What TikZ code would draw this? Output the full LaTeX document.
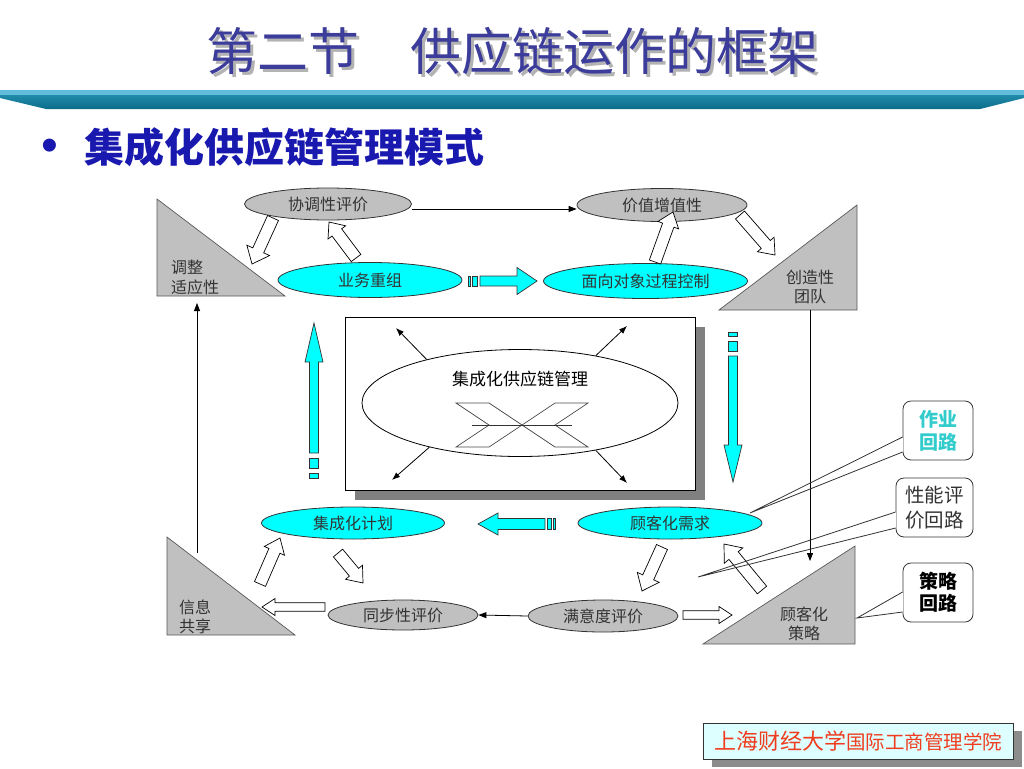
\documentclass[tikz,border=0pt]{standalone}
\usepackage{fontspec}
\setmainfont{Noto Sans CJK SC}
\newfontfamily\bulletfont{Liberation Sans}
\usetikzlibrary{shapes.geometric,calc,arrows.meta,shadows}

\definecolor{titleblue}{RGB}{60,60,155}
\definecolor{subblue}{RGB}{25,25,175}
\definecolor{bandtop}{RGB}{98,188,219}
\definecolor{bandhi}{RGB}{40,150,182}
\definecolor{bandlo}{RGB}{12,108,138}
\definecolor{silver}{RGB}{192,192,192}
\definecolor{aqua}{RGB}{0,255,255}
\definecolor{loopcyan}{RGB}{51,204,204}
\definecolor{footfill}{RGB}{221,255,255}
\definecolor{footred}{RGB}{240,60,30}
\definecolor{ink}{RGB}{51,51,51}

% block arrow: tail, tip, shaft half width, head half width, head length
\newcommand{\hollowarrow}[5]{%
  \draw[hollow] ($#1!#3pt!90:#2$) -- ($#2!#5pt!#1!#3pt!90:#2$)
    -- ($#2!#5pt!#1!#4pt!90:#2$) -- #2
    -- ($#2!#5pt!#1!#4pt!270:#2$) -- ($#2!#5pt!#1!#3pt!270:#2$)
    -- ($#1!#3pt!270:#2$) -- cycle;}

% striped block arrow, #6 = stripe unit
\newcommand{\stripearrow}[6]{%
  \pgfmathsetmacro\stripA{#6}\pgfmathsetmacro\stripB{2*#6}%
  \pgfmathsetmacro\stripC{4*#6}\pgfmathsetmacro\stripD{5*#6}%
  \draw[striped] ($#1!#3pt!90:#2$) -- ($#1!\stripA pt!#2!#3pt!90:#2$)
    -- ($#1!\stripA pt!#2!#3pt!270:#2$) -- ($#1!#3pt!270:#2$) -- cycle;
  \draw[striped] ($#1!\stripB pt!#2!#3pt!90:#2$) -- ($#1!\stripC pt!#2!#3pt!90:#2$)
    -- ($#1!\stripC pt!#2!#3pt!270:#2$) -- ($#1!\stripB pt!#2!#3pt!270:#2$) -- cycle;
  \draw[striped] ($#1!\stripD pt!#2!#3pt!90:#2$) -- ($#2!#5pt!#1!#3pt!90:#2$)
    -- ($#2!#5pt!#1!#4pt!90:#2$) -- #2
    -- ($#2!#5pt!#1!#4pt!270:#2$) -- ($#2!#5pt!#1!#3pt!270:#2$)
    -- ($#1!\stripD pt!#2!#3pt!270:#2$) -- cycle;}

\begin{document}
\begin{tikzpicture}[x=1pt,y=-1pt,
  conn/.style={draw=black, line width=0.8pt, -{Triangle[length=8pt,width=6pt]}},
  outarrow/.style={draw=black, line width=0.8pt, -{Latex[length=8pt,width=6pt]}},
  hollow/.style={draw=black, fill=white, line width=0.7pt},
  striped/.style={draw=black!80, fill=aqua, line width=0.7pt},
  tri/.style={draw=black!65, fill=silver, line width=0.7pt},
  grayell/.style={ellipse, draw=black!80, fill=silver, line width=0.8pt, inner sep=0pt,
    font=\fontsize{16}{19}\selectfont, text=ink},
  cyanell/.style={grayell, fill=aqua},
  trilabel/.style={inner sep=0pt, font=\fontsize{16}{19.5}\selectfont, text=ink},
  loopbox/.style={draw=black!80, fill=white, rounded corners=8pt, line width=0.8pt,
    minimum width=70pt, minimum height=59pt, inner sep=0pt, align=center},
  calline/.style={draw=black!80, line width=0.8pt}]
\useasboundingbox (0,0) rectangle (1024,768);

% title and band
\node[text=black!30, font=\fontsize{51}{56}\selectfont] (titleshadow) at (515,54) {第二节　供应链运作的框架};
\node[text=titleblue, font=\fontsize{51}{56}\selectfont] (title) at (512,51) {第二节　供应链运作的框架};
\shade[top color=bandhi, bottom color=bandlo] (0,90) -- (1024,90) -- (1024,98) -- (980,109) -- (46,109) -- (0,98) -- cycle;
\fill[bandtop] (0,90) rectangle (1024,95);
\node[text=subblue, inner sep=0pt, font=\bulletfont\fontsize{48}{52}\selectfont] (dot) at (50,150) {•};
\node[text=subblue, anchor=west, inner sep=0pt, font=\fontsize{40}{44}\selectfont\bfseries] (subtitle) at (84,147) {集成化供应链管理模式};

% triangles
\draw[tri] (157,199) -- (157,296) -- (285,296) -- cycle;
\draw[tri] (857,205) -- (857,310) -- (719,310) -- cycle;
\draw[tri] (167,537) -- (167,635) -- (295,635) -- cycle;
\draw[tri] (855,546) -- (855,644) -- (703,644) -- cycle;
\node[trilabel, anchor=west, align=left] (adapt) at (171,277.5) {调整\\适应性};
\node[trilabel, align=center] (team) at (810,287) {创造性\\团队};
\node[trilabel, anchor=west, align=left] (share) at (179,617) {信息\\共享};
\node[trilabel, align=center] (strat) at (804,624) {顾客化\\策略};

% ellipses
\node[grayell, minimum width=167pt, minimum height=32pt] (coord) at (328,204) {协调性评价};
\node[grayell, minimum width=170pt, minimum height=33pt] (value) at (662,205) {价值增值性};
\node[cyanell, minimum width=184pt, minimum height=35pt] (reorg) at (370,280) {业务重组};
\node[cyanell, minimum width=204pt, minimum height=35pt] (objctl) at (645.5,281) {面向对象过程控制};
\node[cyanell, minimum width=183pt, minimum height=32pt] (plan) at (353,523) {集成化计划};
\node[cyanell, minimum width=184pt, minimum height=32pt] (demand) at (670,523) {顾客化需求};
\node[grayell, minimum width=150pt, minimum height=30pt] (sync) at (403,615) {同步性评价};
\node[grayell, minimum width=150pt, minimum height=32pt] (satis) at (603,616) {满意度评价};

% centre box
\node[draw, fill=white, line width=0.8pt, minimum width=350pt, minimum height=173pt,
  drop shadow={shadow xshift=10pt, shadow yshift=-10pt, fill=black!50, opacity=1}] (core) at (520,403.5) {};
\node[ellipse, draw, line width=0.8pt, minimum width=316pt, minimum height=107pt] (scm) at (520,403) {};
\node[font=\fontsize{17}{20}\selectfont] (scmlabel) at (520,379) {集成化供应链管理};
\draw[black!70, line width=0.7pt] (456,403) -- (489,403) -- (522,425) -- (489,447) -- (456,447) -- (489,425) -- cycle;
\draw[black!70, line width=0.7pt] (588,403) -- (555,403) -- (522,425) -- (555,447) -- (588,447) -- (555,425) -- cycle;
\draw[black!80, line width=0.7pt] (472,425) -- (572,425);
\coordinate (nw) at (396,328);
\coordinate (ne) at (627,326);
\coordinate (sw) at (392,480);
\coordinate (se) at (627,483);
\draw[outarrow] (scm.155) -- (nw);
\draw[outarrow] (scm.32) -- (ne);
\draw[outarrow] (scm.206) -- (sw);
\draw[outarrow] (scm.-32.5) -- (se);

% thin connectors
\draw[conn] ([yshift=-5pt]coord.east) -- ([yshift=-4pt]value.west);
\draw[conn] (satis.west) -- (sync.east);
\coordinate (tr1) at (810,310);
\coordinate (br1) at (810,561);
\draw[conn] (tr1) -- (br1);
\coordinate (bl1) at (197,553);
\coordinate (tl1) at (197,303);
\draw[conn] (bl1) -- (tl1);

% hollow arrows
\hollowarrow{(273,218)}{(252,264)}{6}{12.5}{15}
\hollowarrow{(356,258)}{(329,222)}{6}{11}{13}
\hollowarrow{(655,262)}{(673,212)}{6}{11}{14}
\hollowarrow{(740,215)}{(775,255)}{6}{11}{14}
\hollowarrow{(260,584)}{(280,538)}{6}{11}{14}
\hollowarrow{(338,553)}{(363,583)}{6}{11}{14}
\hollowarrow{(325,607)}{(262,607)}{4.3}{8.5}{13}
\hollowarrow{(662,547)}{(642,591)}{6}{12}{15}
\hollowarrow{(683,615)}{(732,615)}{4.3}{8.5}{13}
\hollowarrow{(762,590)}{(724,544)}{6}{12}{15}

% striped arrows
\stripearrow{(468,281)}{(537,281)}{5}{13.5}{20}{2.4}
\stripearrow{(314,478)}{(314,323)}{4.5}{9}{39}{5}
\stripearrow{(733,332)}{(733,482)}{4.5}{9}{37}{4.8}
\stripearrow{(555,524)}{(478,524)}{5.5}{11}{20}{2}

% loop callouts
\node[loopbox, text=loopcyan, font=\fontsize{19}{23}\selectfont\bfseries] (opl) at (938,430.5) {作业\\回路};
\node[loopbox, minimum width=77pt, text=ink, font=\fontsize{19.5}{24.5}\selectfont] (perf) at (934.5,507.5) {性能评\\价回路};
\node[loopbox, font=\fontsize{19}{22}\selectfont\bfseries] (strl) at (938,592.5) {策略\\回路};
\coordinate (opltip) at (750,513);
\coordinate (perftip) at (698,577);
\coordinate (strltip) at (857,618);
\fill[white] ([xshift=-0.6pt,yshift=-6.5pt]opl.west) rectangle ([xshift=0.6pt,yshift=-21.5pt]opl.west);
\draw[calline] ([yshift=-6.5pt]opl.west) -- (opltip) -- ([yshift=-21.5pt]opl.west);
\fill[white] ([xshift=-0.6pt,yshift=-4.5pt]perf.west) rectangle ([xshift=0.6pt,yshift=-20.5pt]perf.west);
\draw[calline] ([yshift=-4.5pt]perf.west) -- (perftip) -- ([yshift=-20.5pt]perf.west);
\fill[white] ([xshift=-0.6pt,yshift=0.5pt]strl.west) rectangle ([xshift=0.6pt,yshift=-19.5pt]strl.west);
\draw[calline] ([yshift=0.5pt]strl.west) -- (strltip) -- ([yshift=-19.5pt]strl.west);

% footer
\node[draw=black!80, fill=footfill, line width=0.8pt, minimum width=310pt, minimum height=36pt, inner sep=0pt,
  drop shadow={shadow xshift=9pt, shadow yshift=-8pt, fill=black!45, opacity=1}, text=footred] (school) at (858,741)
  {{\fontsize{22}{24}\selectfont 上海财经大学}{\fontsize{19.5}{24}\selectfont 国际工商管理学院}};
\end{tikzpicture}
\end{document}
